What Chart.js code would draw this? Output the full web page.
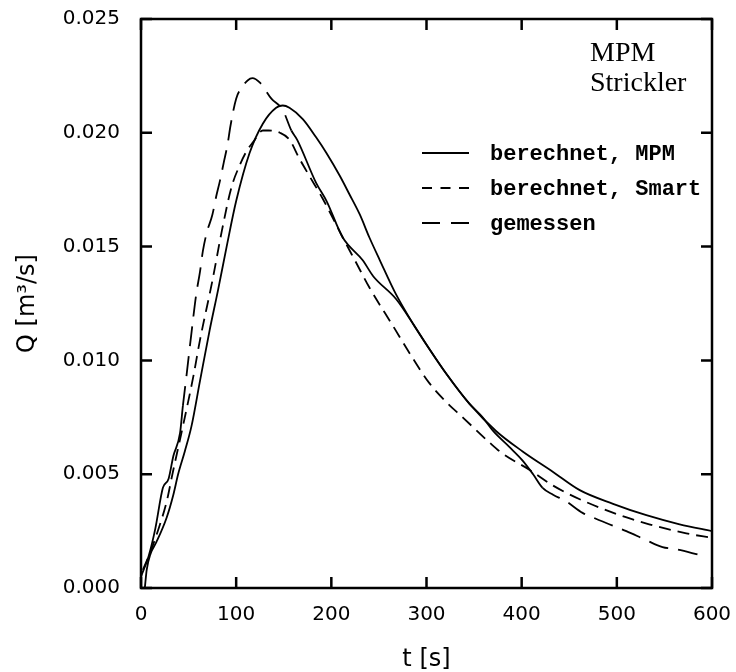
<!DOCTYPE html>
<html>
<head>
<meta charset="utf-8">
<script src="https://cdn.jsdelivr.net/npm/chart.js@4.4.0/dist/chart.umd.min.js"></script>
<style>
html,body{margin:0;padding:0;background:#fff}
canvas{display:block}
</style>
</head>
<body>
<canvas id="c" width="736" height="672"></canvas>
<script>
// ---- data ----
const seriesNames = ['berechnet, MPM', 'berechnet, Smart', 'gemessen'];
const annotationLines = ['MPM', 'Strickler'];
const xTitle = 't [s]';
const yTitle = 'Q [m³/s]';
const xMin = 0, xMax = 600, xStep = 100;
const yMin = 0, yMax = 0.025, yStep = 0.005;

const mpmT = [4, 6, 10, 16, 27, 34, 39, 46, 53, 62, 72, 81, 90, 100, 114, 128, 142, 149, 156, 170, 184, 195, 209, 219, 230, 240, 251, 268, 286, 303, 321, 345, 373, 401, 433, 461, 496, 531, 566, 600];
const mpmQ = [0, 0.0008, 0.0015, 0.0020, 0.0031, 0.0041, 0.0050, 0.0060, 0.0071, 0.0091, 0.0113, 0.0131, 0.0150, 0.0170, 0.0191, 0.0204, 0.0211, 0.0212, 0.0211, 0.0206, 0.0198, 0.0191, 0.0181, 0.0173, 0.0164, 0.0154, 0.0144, 0.0129, 0.0116, 0.0105, 0.0094, 0.0081, 0.0069, 0.0060, 0.0051, 0.0043, 0.0037, 0.0032, 0.0028, 0.0025];

const smartT = [2, 10, 20, 27, 33, 44, 55, 62, 75, 85, 95, 104, 111, 118, 128, 134, 146, 156, 166, 177, 191, 212, 226, 240, 265, 284, 303, 320, 338, 366, 380, 408, 433, 461, 503, 534, 573, 600];
const smartQ = [0.0008, 0.0016, 0.0028, 0.0038, 0.0050, 0.0071, 0.0093, 0.0109, 0.0135, 0.0157, 0.0176, 0.0186, 0.0192, 0.0196, 0.0201, 0.0201, 0.0200, 0.0197, 0.0189, 0.0181, 0.0171, 0.0154, 0.0143, 0.0132, 0.0115, 0.0102, 0.0090, 0.0082, 0.0075, 0.0064, 0.0059, 0.0052, 0.0045, 0.0039, 0.0032, 0.0028, 0.0024, 0.0022];

const gemT = [0, 8, 15, 23, 29, 34, 41, 44, 48, 53, 58, 62, 65, 69, 75, 79, 83, 87, 91, 94, 100, 106, 112, 117, 125, 137, 149, 158, 164, 184, 195, 212, 233, 244, 268, 286, 303, 321, 345, 359, 370, 387, 401, 412, 422, 433, 447, 464, 475, 492, 510, 531, 548, 563, 587];
const gemQ = [0.0005, 0.0014, 0.0026, 0.0044, 0.0048, 0.0058, 0.0068, 0.0080, 0.0094, 0.0112, 0.0129, 0.0139, 0.0148, 0.0156, 0.0164, 0.0172, 0.0179, 0.0187, 0.0195, 0.0203, 0.0215, 0.0220, 0.0223, 0.0224, 0.0222, 0.0215, 0.0210, 0.0201, 0.0197, 0.0178, 0.0170, 0.0154, 0.0144, 0.0137, 0.0127, 0.0116, 0.0105, 0.0094, 0.0081, 0.0075, 0.0069, 0.0062, 0.0056, 0.0050, 0.0044, 0.0041, 0.0038, 0.0033, 0.0031, 0.0028, 0.0025, 0.0021, 0.0018, 0.0017, 0.00145];

// ---- styles ----
const smartDash = [12, 7];
const gemDash = [20, 10];
const legendDashes = [[], [10, 8.5], [18, 11]];
const gemSolidRanges = [[0, 46], [158, 422]];

function pts(ts, qs) { return ts.map((t, i) => ({ x: t, y: qs[i] })); }
function noPad(s) { s.paddingTop = 0; s.paddingBottom = 0; s.paddingLeft = 0; s.paddingRight = 0; }

const framePlugin = {
  id: 'frame',
  afterDatasetsDraw(chart) {
    const { ctx, chartArea: a, scales: { x, y } } = chart;
    ctx.save();
    ctx.strokeStyle = '#000';
    ctx.lineWidth = 2.5;
    ctx.setLineDash([]);
    ctx.strokeRect(a.left, a.top, a.right - a.left, a.bottom - a.top);
    const L = 11;
    ctx.beginPath();
    x.ticks.forEach(t => {
      const px = x.getPixelForValue(t.value);
      ctx.moveTo(px, a.bottom); ctx.lineTo(px, a.bottom - L);
      ctx.moveTo(px, a.top); ctx.lineTo(px, a.top + L);
    });
    y.ticks.forEach(t => {
      const py = y.getPixelForValue(t.value);
      ctx.moveTo(a.left, py); ctx.lineTo(a.left + L, py);
      ctx.moveTo(a.right, py); ctx.lineTo(a.right - L, py);
    });
    ctx.stroke();
    ctx.restore();
  }
};

const legendPlugin = {
  id: 'customLegend',
  afterDraw(chart) {
    const ctx = chart.ctx;
    ctx.save();
    ctx.fillStyle = '#000';
    ctx.strokeStyle = '#000';
    ctx.font = '28px "Liberation Serif"';
    ctx.textBaseline = 'alphabetic';
    ctx.textAlign = 'left';
    annotationLines.forEach((s, i) => ctx.fillText(s, 590, 61 + i * 30));
    const rows = [153, 188, 223];
    ctx.font = 'bold 22px "Liberation Mono"';
    seriesNames.forEach((name, i) => {
      ctx.lineWidth = 1.8;
      ctx.setLineDash(legendDashes[i]);
      ctx.beginPath();
      ctx.moveTo(422, rows[i]);
      ctx.lineTo(469, rows[i]);
      ctx.stroke();
      ctx.setLineDash([]);
      ctx.fillText(name, 490, rows[i] + 7);
    });
    ctx.restore();
  }
};

new Chart(document.getElementById('c'), {
  type: 'line',
  data: {
    datasets: [
      { label: seriesNames[0], data: pts(mpmT, mpmQ), borderColor: '#000', borderWidth: 1.8, pointRadius: 0, fill: false, cubicInterpolationMode: 'monotone' },
      { label: seriesNames[1], data: pts(smartT, smartQ), borderColor: '#000', borderWidth: 1.8, borderDash: smartDash, pointRadius: 0, fill: false, cubicInterpolationMode: 'monotone' },
      { label: seriesNames[2], data: pts(gemT, gemQ), borderColor: '#000', borderWidth: 1.8, pointRadius: 0, fill: false, cubicInterpolationMode: 'monotone',
        segment: {
          borderDash: c => gemSolidRanges.some(r => c.p0.parsed.x >= r[0] && c.p1.parsed.x <= r[1]) ? [] : gemDash
        } }
    ]
  },
  options: {
    responsive: false,
    animation: false,
    layout: { autoPadding: false, padding: { top: 19, right: 24, left: 0, bottom: 0 } },
    plugins: { legend: { display: false }, tooltip: { enabled: false } },
    scales: {
      x: {
        type: 'linear', min: xMin, max: xMax,
        grid: { display: false },
        border: { display: false },
        ticks: { stepSize: xStep, color: '#000', font: { family: 'DejaVu Sans', size: 20 }, padding: 7, maxRotation: 0 },
        title: { display: true, text: xTitle, color: '#000', font: { family: 'DejaVu Sans', size: 24, lineHeight: 1 }, padding: { top: 0, bottom: 0 } },
        afterFit(s) { s.height = 84; noPad(s); }
      },
      y: {
        type: 'linear', min: yMin, max: yMax,
        grid: { display: false },
        border: { display: false },
        ticks: { stepSize: yStep, color: '#000', font: { family: 'DejaVu Sans', size: 20 }, padding: 13, callback: v => v.toFixed(3) },
        title: { display: true, text: yTitle, color: '#000', font: { family: 'DejaVu Sans', size: 24, lineHeight: 1 }, padding: { top: 16, bottom: 0 } },
        afterFit(s) { s.width = 141; noPad(s); }
      }
    }
  },
  plugins: [framePlugin, legendPlugin]
});
</script>
</body>
</html>
